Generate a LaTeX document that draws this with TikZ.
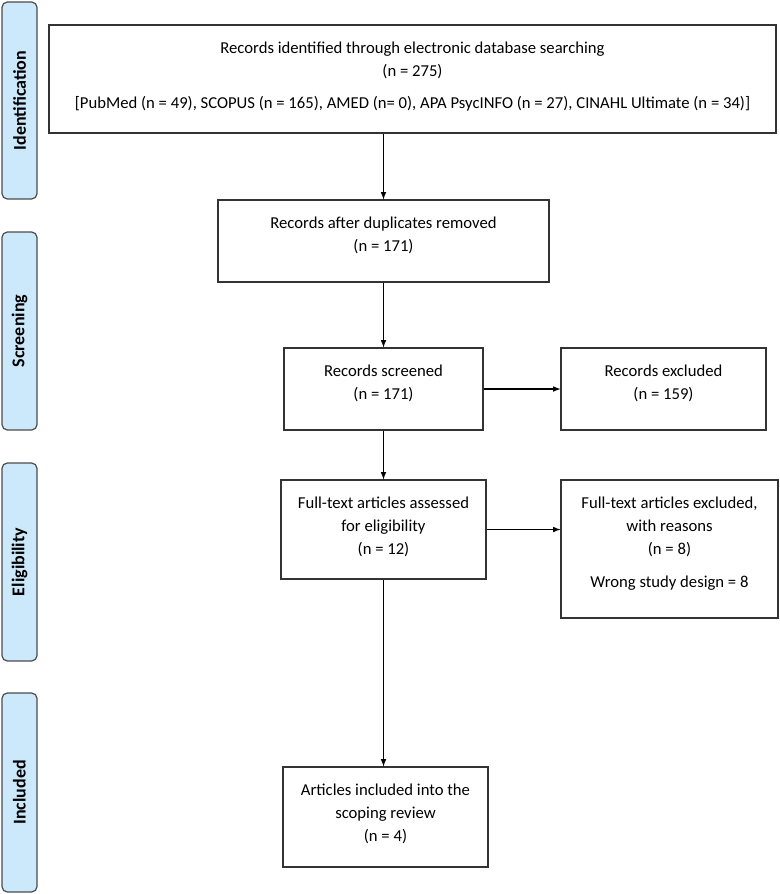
\documentclass[tikz,border=0pt]{standalone}
\usepackage{fontspec}
\setmainfont{Carlito}
\usetikzlibrary{positioning}
\definecolor{phasefill}{RGB}{204,233,251}

\begin{document}
\begin{tikzpicture}[x=0.75pt, y=-0.75pt,
	font=\fontsize{12.5pt}{17.25pt}\selectfont,
	box/.style={draw=black!80, line width=0.8pt, inner sep=0pt},
	boxtext/.style={anchor=north, align=center, inner sep=0pt, yshift=-12.75pt},
	phase/.style={draw=black!70, line width=0.9pt, fill=phasefill, rounded corners=4pt,
		minimum width=26.25pt, inner sep=0pt},
	phasetext/.style={rotate=90, font=\fontsize{13.5pt}{14pt}\selectfont\bfseries},
	arr/.style={-latex, line width=0.9pt}]
	\useasboundingbox (0,0) rectangle (780,894);
	% phases
	\node [phase, minimum height=147.75pt] (pid) at (19.5,100.5) {};
	\node [phasetext] (pidtext) at (pid) {Identification};
	\node [phase, minimum height=148.5pt] (pscr) at (19.5,331) {};
	\node [phasetext] (pscrtext) at (pscr) {Screening};
	\node [phase, minimum height=148.5pt] (pelig) at (19.5,562) {};
	\node [phasetext] (peligtext) at (pelig) {Eligibility};
	\node [phase, minimum height=149.25pt] (pincl) at (19.5,792.5) {};
	\node [phasetext] (pincltext) at (pincl) {Included};
	% boxes
	\node [box, minimum width=545.25pt, minimum height=81pt,
		label={[boxtext]north:{Records identified through electronic database searching\\(n = 275)\\[6.75pt]
		[PubMed (n = 49), SCOPUS (n = 165), AMED (n= 0), APA PsycINFO (n = 27), CINAHL Ultimate (n = 34)]}}]
		(idf) at (412.5,79) {};
	\node [box, minimum width=248.25pt, minimum height=61.5pt,
		label={[boxtext]north:{Records after duplicates removed\\(n = 171)}}] (dup) at (383.5,241) {};
	\node [box, minimum width=149.25pt, minimum height=61.5pt,
		label={[boxtext]north:{Records screened\\(n = 171)}}] (scr) at (383.5,389) {};
	\node [box, minimum width=153.75pt, minimum height=61.5pt,
		label={[boxtext]north:{Records excluded\\(n = 159)}}] (exc) at (663.5,389) {};
	\node [box, minimum width=153.75pt, minimum height=74.25pt,
		label={[boxtext]north:{Full-text articles assessed\\for eligibility\\(n = 12)}}] (elig) at (383.5,529.5) {};
	\node [box, minimum width=162.75pt, minimum height=103.5pt,
		label={[boxtext]north:{Full-text articles excluded,\\with reasons\\(n = 8)\\[7.5pt]Wrong study design = 8}}] (fexc) at (669.5,549) {};
	\node [box, minimum width=153.75pt, minimum height=75pt,
		label={[boxtext]north:{Articles included into the\\scoping review\\(n = 4)}}] (incl) at (385.5,817) {};
	% arrows
	\draw [arr] (idf.south -| dup) -- (dup.north);
	\draw [arr] (dup.south) -- (scr.north);
	\draw [arr] (scr.east) -- (exc.west);
	\draw [arr] (scr.south) -- (elig.north);
	\draw [arr] (elig.east) -- (elig.east -| fexc.west);
	\draw [arr] (elig.south) -- (elig.south |- incl.north);
\end{tikzpicture}
\end{document}
